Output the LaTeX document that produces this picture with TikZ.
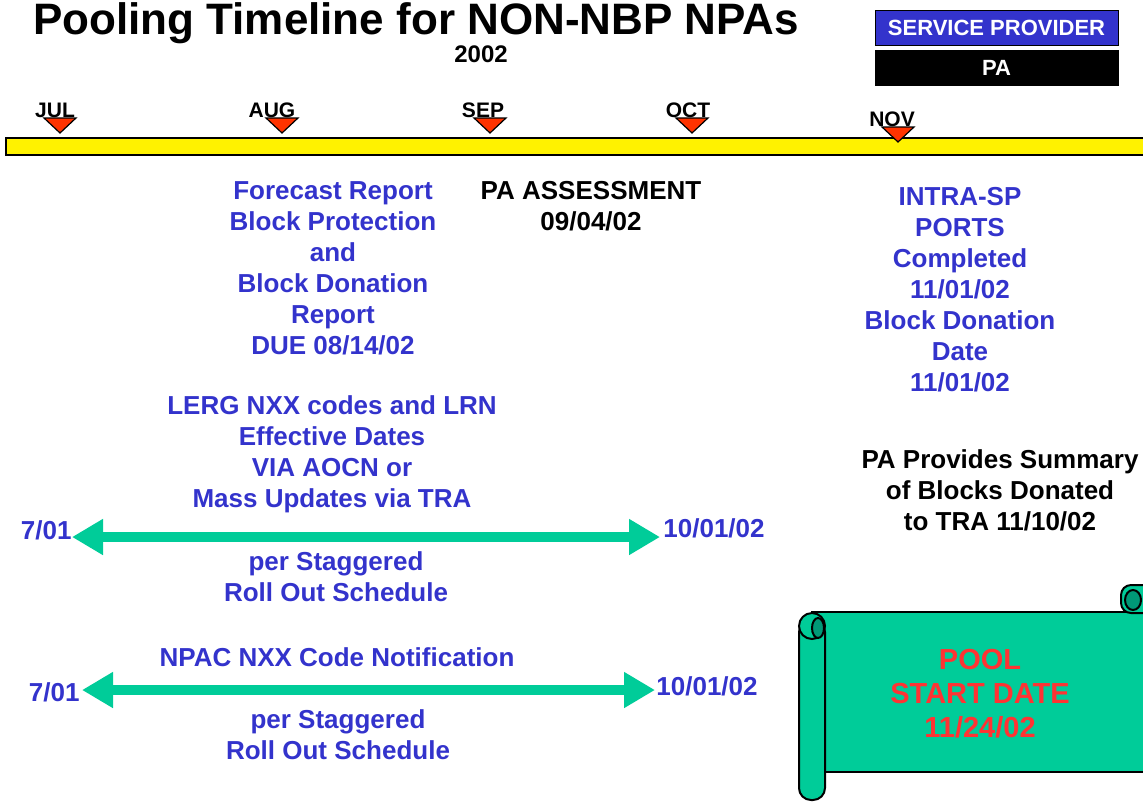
\documentclass[tikz,border=0pt]{standalone}
\usepackage{fontspec}
\setmainfont{Liberation Sans}
\usetikzlibrary{arrows.meta}
\definecolor{txtblue}{HTML}{3333CC}
\definecolor{scroll}{HTML}{00CC99}
\definecolor{scrolldark}{HTML}{009977}
\definecolor{markred}{HTML}{FF3300}
\definecolor{poolred}{HTML}{FF3333}

\begin{document}
\begin{tikzpicture}[
  x=0.5pt, y=-0.5pt,
  bluetxt/.style = {text=txtblue, font=\fontsize{13}{15.5}\selectfont\bfseries, align=center, inner sep=0pt},
  blacktxt/.style = {bluetxt, text=black},
  month/.style = {font=\fontsize{10.5}{12}\selectfont\bfseries, inner sep=0pt, anchor=base},
  hdrbox/.style = {draw=black, fill=#1, text=white, font=\fontsize{11}{13}\selectfont\bfseries,
    minimum width=121.5pt, minimum height=17.5pt, inner sep=0pt},
  spanarrow/.style = {draw=scroll, line width=5pt,
    {Triangle[length=15.5pt,width=17pt]}-{Triangle[length=15.5pt,width=17pt]}},
  roll/.style = {draw=black, line width=1pt, fill=scroll}
  ]
  \useasboundingbox (0,0) rectangle (1143,804);

  % heading
  \node[font=\fontsize{22}{26}\selectfont\bfseries, anchor=base, inner sep=0pt] (title) at (416,34) {Pooling Timeline for NON-NBP NPAs};
  \node[font=\fontsize{12}{14}\selectfont\bfseries, anchor=base, inner sep=0pt] (year) at (481,62) {2002};
  \node[hdrbox=txtblue] (sp) at (996.5,27.5) {SERVICE PROVIDER};
  \node[hdrbox=black] (pa) at (996.5,67.5) {PA};

  % timeline
  \draw[line width=1pt, fill=yellow] (6,138) rectangle (1160,155);
  \foreach \m/\lx/\tx/\dy in {JUL/55/60/0, AUG/272/282/0, SEP/483/490/0, OCT/688/692/0, NOV/892/898/9} {
    \node[month] (m-\m) at (\lx,117+\dy) {\m};
    \draw[fill=markred, line width=0.6pt] (\tx-16,118+\dy) -- (\tx+16,118+\dy) -- (\tx,133+\dy) -- cycle;
  }

  % events
  \node[bluetxt, anchor=north] (forecast) at (333,181) {Forecast Report\\Block Protection\\and\\Block Donation\\Report\\DUE 08/14/02};
  \node[blacktxt, anchor=north] (assess) at (591,181) {PA ASSESSMENT\\09/04/02};
  \node[bluetxt, anchor=north] (intra) at (960,187) {INTRA-SP\\PORTS\\Completed\\11/01/02\\Block Donation\\Date\\11/01/02};
  \node[bluetxt, anchor=north] (lerg) at (332,395) {LERG NXX codes and LRN\\Effective Dates\\VIA AOCN or\\Mass Updates via TRA};
  \node[bluetxt, anchor=north] (roll1) at (336,551) {per Staggered\\Roll Out Schedule};
  \node[blacktxt, anchor=north] (summary) at (1000,449) {PA Provides Summary\\of Blocks Donated\\to TRA 11/10/02};
  \node[bluetxt, anchor=north] (npac) at (337,647) {NPAC NXX Code Notification};
  \node[bluetxt, anchor=north] (roll2) at (338,709) {per Staggered\\Roll Out Schedule};

  % roll out spans
  \coordinate (a1l) at (72,537);
  \coordinate (a1r) at (660,537);
  \draw[spanarrow] (a1l) -- (a1r);
  \node[bluetxt, anchor=east, yshift=3.5pt] (start1) at (a1l) {7/01};
  \node[bluetxt, anchor=west, xshift=1.5pt, yshift=4.5pt] (end1) at (a1r) {10/01/02};
  \coordinate (a2l) at (82,690);
  \coordinate (a2r) at (655,690);
  \draw[spanarrow] (a2l) -- (a2r);
  \node[bluetxt, anchor=east, xshift=-1pt, yshift=-1pt] (start2) at (a2l) {7/01};
  \node[bluetxt, anchor=west, xshift=0.5pt, yshift=2pt] (end2) at (a2r) {10/01/02};

  % scroll
  \draw[roll] (812,612) rectangle (1160,772);
  \draw[roll, rounded corners=6pt] (799,620) rectangle (825,800);
  \draw[roll] (812,626) ellipse [x radius=6.5pt, y radius=6.5pt];
  \draw[roll, fill=scrolldark] (818,628) ellipse [x radius=3pt, y radius=5pt];
  \draw[roll, rounded corners=5pt] (1121,613) rectangle (1160,585);
  \draw[roll, fill=scrolldark] (1133,600) ellipse [x radius=4pt, y radius=5pt];
  \node[font=\fontsize{14.5}{17}\selectfont\bfseries, text=poolred, align=center, anchor=north, inner sep=0pt] (pool) at (980,649) {POOL\\START DATE\\11/24/02};
\end{tikzpicture}
\end{document}
